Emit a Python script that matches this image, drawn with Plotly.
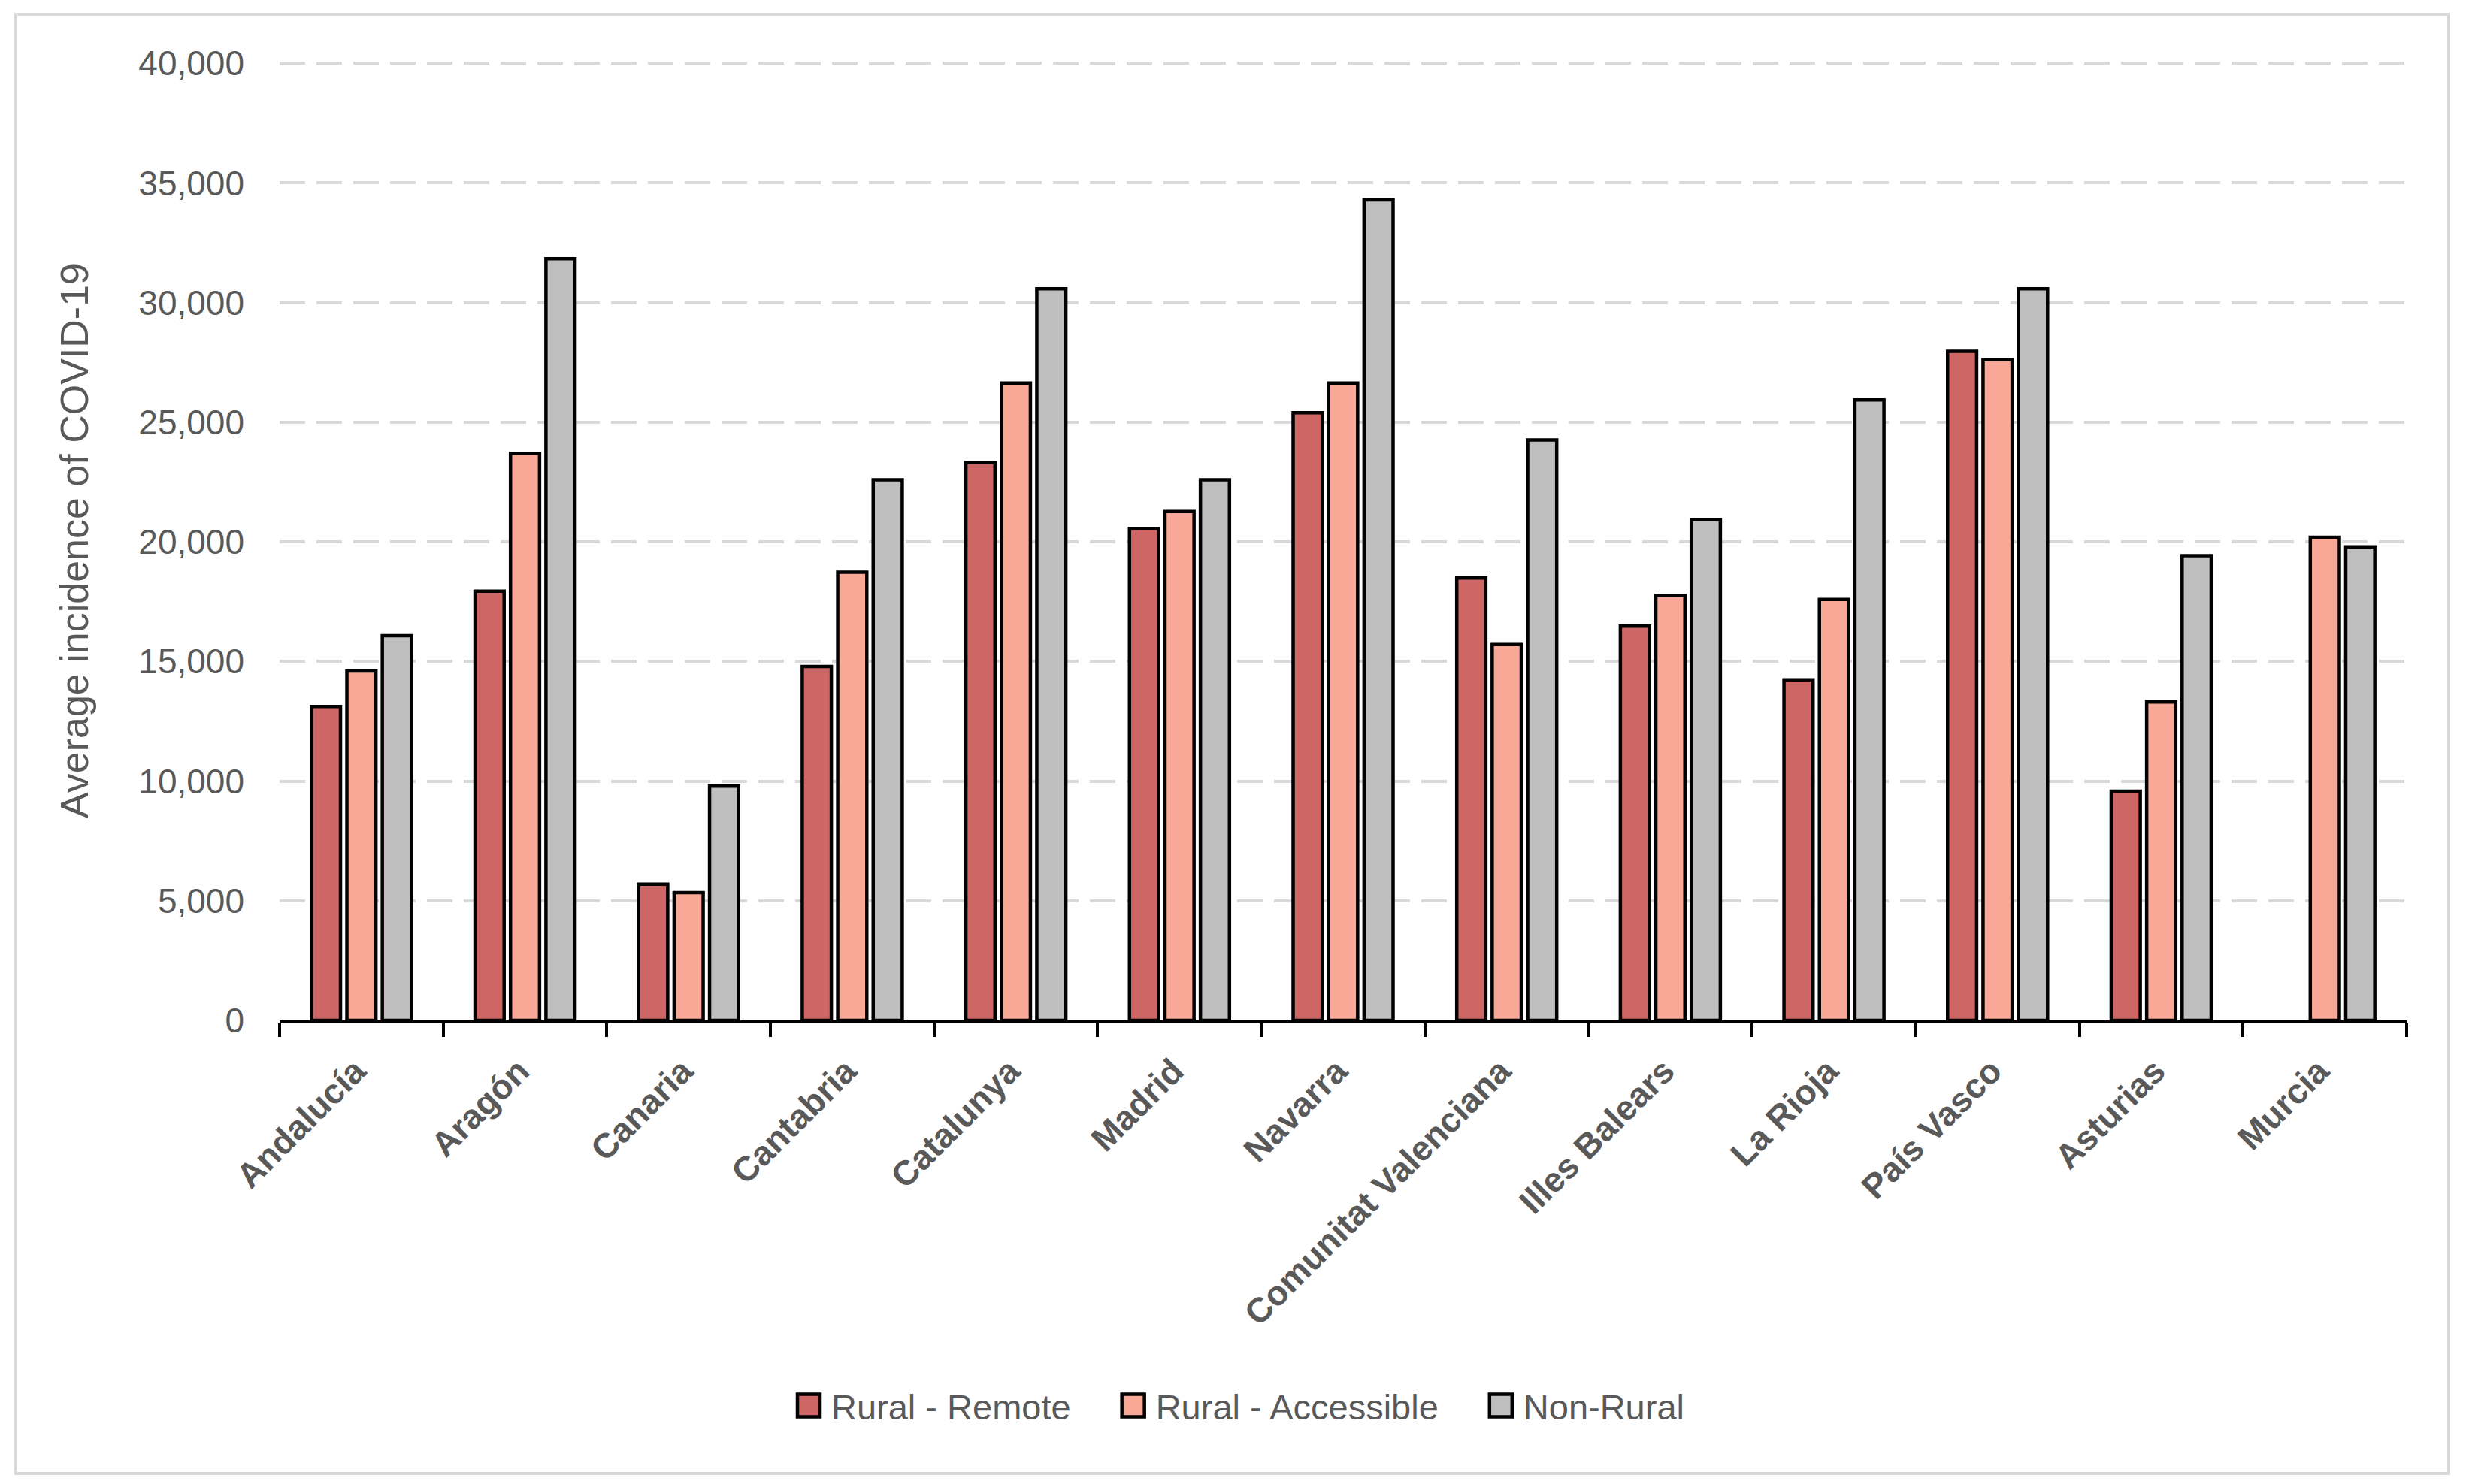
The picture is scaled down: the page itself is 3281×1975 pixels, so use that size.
import plotly.graph_objects as go

regions = ["Andalucía", "Aragón", "Canaria", "Cantabria", "Catalunya", "Madrid", "Navarra",
           "Comunitat Valenciana", "Illes Balears", "La Rioja", "País Vasco", "Asturias", "Murcia"]
rural_remote = [13120, 17940, 5690, 14790, 23310, 20560, 25400, 18490, 16480, 14230, 27960, 9580, None]
rural_accessible = [14600, 23700, 5340, 18730, 26640, 21270, 26640, 15710, 17750, 17590, 27620, 13310, 20190]
non_rural = [16080, 31830, 9790, 22590, 30580, 22590, 34290, 24260, 20930, 25930, 30580, 19420, 19790]
y_ticks = [0, 5000, 10000, 15000, 20000, 25000, 30000, 35000, 40000]

# figure is offset by the 8px body margin of the page
W, H = 3273, 1967
ML, MR, MT, MB = 364, 79, 73, 617
FONT = "Liberation Sans, Arial, sans-serif"
GREY_TXT = "#595959"

fig = go.Figure()
series = [("Rural - Remote", rural_remote, "#CD6664"),
          ("Rural - Accessible", rural_accessible, "#F9A897"),
          ("Non-Rural", non_rural, "#BFBFBF")]
for name, vals, col in series:
    fig.add_trace(go.Bar(x=regions, y=vals, name=name,
                         marker=dict(color=col, line=dict(color="black", width=4.5))))

pw = W - ML - MR
ph = H - MT - MB
fig.add_shape(type="rect", xref="paper", yref="paper",
              x0=(13 - ML) / pw, x1=(3250 - ML) / pw,
              y0=(H - MB - 1953) / ph, y1=(H - MB - 11) / ph,
              line=dict(color="#D9D9D9", width=4), fillcolor="rgba(0,0,0,0)", layer="below")

fig.update_layout(
    width=W, height=H,
    margin=dict(l=ML, r=MR, t=MT, b=MB),
    paper_bgcolor="white", plot_bgcolor="white",
    barmode="group", bargap=0.35, bargroupgap=0.18,
    font=dict(family=FONT, color=GREY_TXT),
    showlegend=True,
    legend=dict(orientation="h", xref="container", yref="container",
                x=990 / W, xanchor="left", y=1 - 1863 / H, yanchor="middle",
                font=dict(size=47, color=GREY_TXT, family=FONT),
                itemwidth=98, traceorder="normal"),
    xaxis=dict(
        type="category",
        showline=True, linecolor="black", linewidth=4,
        ticks="outside", tickson="boundaries", ticklen=18, tickwidth=4, tickcolor="black",
        tickangle=-45, ticklabelstandoff=18, ticklabelshift=-8,
        tickfont=dict(size=46, color=GREY_TXT, family=FONT, weight="bold"),
        showgrid=False, zeroline=False,
    ),
    yaxis=dict(
        range=[0, 40100],
        tickvals=y_ticks, tickformat=",d",
        tickfont=dict(size=46, color=GREY_TXT, family=FONT),
        ticklabelstandoff=46,
        showline=False, ticks="",
        showgrid=True, gridcolor="#D9D9D9", gridwidth=4, griddash="34px,15px",
        zeroline=False,
        title=dict(text="Average incidence of COVID-19", standoff=50,
                   font=dict(size=52, color=GREY_TXT, family=FONT)),
    ),
)

# larger square legend keys, sitting close to their labels as in the reference
post = """
try {
  var gd = document.getElementById('{plot_id}');
  gd.querySelectorAll('.legendpoints path').forEach(function(p) {
    p.setAttribute('d', 'M39,15H9V-15H39Z');
  });
} catch (e) {}
"""
fig.write_html("out.html", post_script=post)
